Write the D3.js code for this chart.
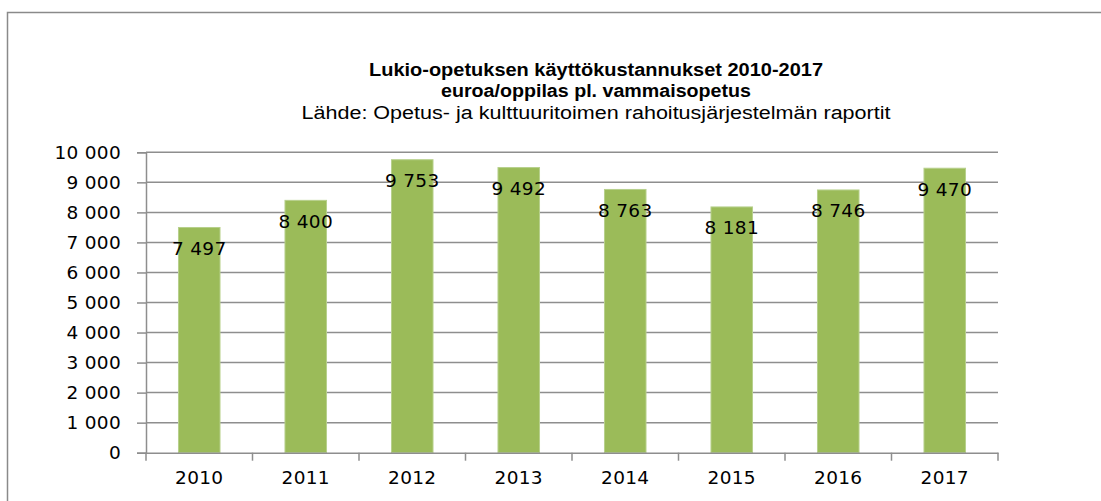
<!DOCTYPE html>
<html><head><meta charset="utf-8">
<script src="https://cdn.jsdelivr.net/npm/d3@7"></script>
<style>body{margin:0;background:#fff;} svg{display:block;}</style>
</head><body>
<script>
const categories = ["2010","2011","2012","2013","2014","2015","2016","2017"];
const values = [7497, 8400, 9753, 9492, 8763, 8181, 8746, 9470];
const yTicks = [0,1000,2000,3000,4000,5000,6000,7000,8000,9000,10000];
const titleLines = ["Lukio-opetuksen käyttökustannukset 2010-2017","euroa/oppilas pl. vammaisopetus","Lähde: Opetus- ja kulttuuritoimen rahoitusjärjestelmän raportit"];

(function(){
const W = 1101, H = 501;
const svg = d3.select("body").append("svg").attr("width", W).attr("height", H);
const fmt = v => d3.format(",")(v).replace(/,/g, " ");
const FONT = "'DejaVu Sans', Verdana, sans-serif";

// frame
svg.append("path").attr("d", `M7.5,${H+5} L7.5,12.5 L${W+5},12.5`).attr("fill","none").attr("stroke","#8a8a8a").attr("stroke-width",1.5);

const pl = 146, pr = 998, pt = 152.3, pb = 452.7;
const x = d3.scaleBand().domain(categories).range([pl, pr]).paddingInner(0.61).paddingOuter(0.305);
const xb = d3.scaleBand().domain(categories).range([pl, pr]);
const y = d3.scaleLinear().domain([0, 10000]).range([pb, pt]);

// gridlines
svg.append("g").selectAll("line").data(yTicks.filter(d=>d>0)).join("line")
  .attr("x1", pl).attr("x2", pr).attr("y1", d=>y(d)).attr("y2", d=>y(d))
  .attr("stroke", "#8e8e8e").attr("stroke-width", 1.5);

// y axis
const ya = svg.append("g").attr("transform", `translate(${pl},0)`)
  .call(d3.axisLeft(y).tickValues(yTicks).tickFormat(fmt).tickSize(9).tickPadding(16));
ya.select(".domain").attr("stroke","#8e8e8e").attr("stroke-width",1.5);
ya.selectAll(".tick line").attr("stroke","#8e8e8e").attr("stroke-width",1.5);
ya.selectAll("text").attr("font-family",FONT).attr("font-size","18.5px")
  .attr("letter-spacing","0.3px").attr("fill","#000");

// bars
svg.append("g").selectAll("rect").data(values).join("rect")
  .attr("x", (d,i)=>x(categories[i])).attr("width", x.bandwidth())
  .attr("y", d=>y(d)).attr("height", d=>pb - y(d))
  .attr("fill", "#9bbb59").attr("stroke","#b7d08c").attr("stroke-width",1);

// x axis
const xa = svg.append("g").attr("transform", `translate(0,${pb})`)
  .call(d3.axisBottom(xb).tickSize(0).tickPadding(31).tickFormat(d=>d));
xa.select(".domain").attr("stroke","#8e8e8e").attr("stroke-width",1.5);
xa.selectAll("text").attr("font-family",FONT).attr("font-size","18.5px")
  .attr("letter-spacing","0.3px").attr("fill","#000").attr("dy","0");
// category boundary ticks
svg.append("g").selectAll("line").data(categories.concat(["__end"])).join("line")
  .attr("x1", (d,i)=> i < categories.length ? xb(d) : xb.range()[1])
  .attr("x2", (d,i)=> i < categories.length ? xb(d) : xb.range()[1])
  .attr("y1", pb).attr("y2", pb + 8)
  .attr("stroke","#8e8e8e").attr("stroke-width",1.5);

// data labels
svg.append("g").selectAll("text").data(values).join("text")
  .attr("x", (d,i)=>x(categories[i]) + x.bandwidth()/2).attr("y", d=>y(d) + 27.5)
  .attr("text-anchor","middle").attr("font-family",FONT)
  .attr("font-size","18.5px").attr("letter-spacing","0.3px").attr("fill","#000").text(fmt);

// titles
const tspec = [
  {y:76, w:454, weight:"bold", size:17.5},
  {y:97, w:310, weight:"bold", size:17.5},
  {y:119, w:589, weight:"normal", size:18}
];
titleLines.forEach((t,i)=>{
  svg.append("text").attr("x", 596).attr("y", tspec[i].y).attr("text-anchor","middle")
    .attr("font-family","'Liberation Sans', Arial, sans-serif").attr("font-weight", tspec[i].weight)
    .attr("font-size", tspec[i].size+"px").attr("textLength", tspec[i].w).attr("lengthAdjust","spacingAndGlyphs")
    .attr("fill","#000").text(t);
});
})();
</script>
</body></html>
